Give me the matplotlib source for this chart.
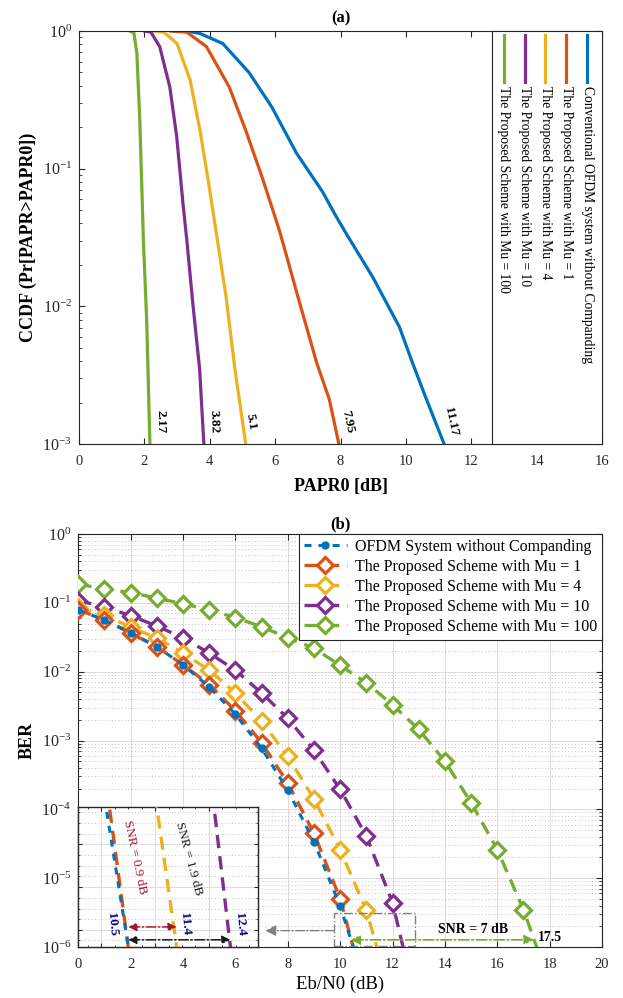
import numpy as np
import matplotlib.pyplot as plt
from matplotlib.patches import Rectangle
from matplotlib.ticker import LogLocator, NullFormatter, MultipleLocator, FixedLocator

plt.rcParams['font.family'] = 'Liberation Serif'
plt.rcParams['mathtext.fontset'] = 'custom'
plt.rcParams['mathtext.rm'] = 'Liberation Serif'
plt.rcParams['mathtext.it'] = 'Liberation Serif:italic'
plt.rcParams['mathtext.bf'] = 'Liberation Serif:bold'

# ---------------- (a) CCDF of PAPR ----------------
ccdf_labels = ['Conventional OFDM system without Companding',
               'The Proposed Scheme with Mu = 1',
               'The Proposed Scheme with Mu = 4',
               'The Proposed Scheme with Mu = 10',
               'The Proposed Scheme with Mu = 100']

conv_x = [2.9, 3.4, 3.7, 4.4, 5.2, 5.9, 6.65, 7.45, 7.82, 8.2, 8.98, 9.8, 10.2, 10.6, 11.17]
conv_y = [1.0, 0.99, 0.96, 0.81, 0.50, 0.28, 0.13, 0.068, 0.047, 0.033, 0.0164, 0.0071, 0.0039, 0.0022, 0.001]
mu1_x = [2.8, 3.3, 3.9, 4.6, 5.1, 5.6, 5.93, 6.14, 6.75, 7.27, 7.66, 7.95]
mu1_y = [1.0, 0.98, 0.77, 0.39, 0.19, 0.087, 0.05, 0.035, 0.0106, 0.0039, 0.0021, 0.001]
mu4_x = [2.26, 2.6, 3.0, 3.4, 3.7, 3.95, 4.17, 4.5, 4.77, 5.1]
mu4_y = [1.0, 0.98, 0.81, 0.44, 0.19, 0.083, 0.038, 0.0117, 0.0035, 0.001]
mu10_x = [2.0, 2.2, 2.47, 2.78, 2.99, 3.18, 3.3, 3.48, 3.69, 3.82]
mu10_y = [1.0, 0.98, 0.77, 0.39, 0.17, 0.056, 0.030, 0.0106, 0.0035, 0.001]
mu100_x = [1.55, 1.68, 1.77, 1.86, 1.97, 2.07, 2.17]
mu100_y = [1.0, 0.97, 0.69, 0.226, 0.030, 0.008, 0.001]

papr_marks = ['2.17', '3.82', '5.1', '7.95', '11.17']

colors = ['#0072BD', '#D95319', '#EDB120', '#7E2F8E', '#77AC30']
ccdf_x = [conv_x, mu1_x, mu4_x, mu10_x, mu100_x]
ccdf_y = [conv_y, mu1_y, mu4_y, mu10_y, mu100_y]

# ---------------- (b) BER ----------------
ber_labels = ['OFDM System without Companding',
              'The Proposed Scheme with Mu = 1',
              'The Proposed Scheme with Mu = 4',
              'The Proposed Scheme with Mu = 10',
              'The Proposed Scheme with Mu = 100']
ber_ofdm = [0.079, 0.056, 0.037, 0.023, 0.0125, 0.006, 0.0024, 0.00077, 0.00019, 3.4e-5, 3.9e-6, 2.6e-7]
ber_mu1 = [0.079, 0.057, 0.036, 0.023, 0.0126, 0.0065, 0.0027, 0.00093, 0.00024, 4.5e-5, 5.0e-6, 2.0e-7]
ber_mu4 = [0.087, 0.067, 0.044, 0.031, 0.0187, 0.0105, 0.0049, 0.0019, 0.00059, 0.000142, 2.6e-5, 3.4e-6, 1.6e-7]
ber_mu10 = [0.108, 0.087, 0.065, 0.046, 0.031, 0.0186, 0.0105, 0.0049, 0.0021, 0.00072, 0.000195, 4.1e-5, 4.4e-6, 1.1e-7]
ber_mu100 = [0.188, 0.158, 0.141, 0.117, 0.097, 0.079, 0.061, 0.045, 0.031, 0.022, 0.0123, 0.0069, 0.0033,
             0.00145, 0.0005, 0.000125, 2.6e-5, 3.5e-6, 2.9e-7]
ber_series = [ber_ofdm, ber_mu1, ber_mu4, ber_mu10, ber_mu100]

crossing = [10.5, 11.4, 12.4, 17.5]   # Eb/N0 where BER = 1e-6

frame_col = '#262626'
crimson = '#A2142F'
navy = '#000080'

fig = plt.figure(figsize=(6.23, 9.98), dpi=100)


def style_axes(ax):
    ax.tick_params(which='both', direction='in', top=True, right=True, colors=frame_col)
    ax.tick_params(axis='x', labelsize=10.5, pad=8)
    ax.tick_params(axis='y', labelsize=11.5, pad=5)
    ax.tick_params(which='major', length=4)
    ax.tick_params(which='minor', length=2)
    for s in ax.spines.values():
        s.set_color(frame_col)
        s.set_linewidth(0.8)


# ================= (a) =================
ax1 = fig.add_axes([79 / 623, 1 - 444 / 998, 523 / 623, 413 / 998])
for xs, ys, c in zip(ccdf_x, ccdf_y, colors):
    ax1.plot(xs, ys, color=c, lw=2.3, solid_joinstyle='round')
ax1.set_yscale('log')
ax1.set_xlim(0, 16)
ax1.set_ylim(1e-3, 1)
ax1.set_xticks(np.arange(0, 17, 2))
ax1.set_yticks([1e-3, 1e-2, 1e-1, 1])
ax1.yaxis.set_minor_locator(LogLocator(subs=np.arange(2, 10)))
ax1.yaxis.set_minor_formatter(NullFormatter())
style_axes(ax1)
ax1.set_xlabel('PAPR0 [dB]', fontsize=13, fontweight='bold', labelpad=7)
ax1.set_ylabel('CCDF (Pr[PAPR>PAPR0])', fontsize=13, fontweight='bold', labelpad=4)
ax1.set_title('(a)', fontsize=12, fontweight='bold', pad=6)

# value labels at the 1e-3 crossings
mark_x = [2.49, 4.13, 5.24, 8.22, 11.38]
mark_rot = [-90, -88, -80, -78, -78]
for xm, txt, r in zip(mark_x, papr_marks, mark_rot):
    ax1.text(xm, 1.45e-3, txt, rotation=r, ha='center', va='center', fontsize=9.5, fontweight='bold')

# rotated legend drawn by hand
trans = ax1.get_xaxis_transform()
ax1.add_patch(Rectangle((12.65, 0), 16 - 12.65, 1, transform=trans, facecolor='white',
                        edgecolor=frame_col, lw=0.8, zorder=3, clip_on=False))
for i, (lab, c) in enumerate(zip(ccdf_labels, colors)):
    xe = 15.55 - i * 0.64
    ax1.plot([xe, xe], [0.99, 0.877], transform=trans, color=c, lw=2.3, zorder=4, clip_on=False)
    ax1.text(xe, 0.866, lab, transform=trans, rotation=-90, rotation_mode='anchor',
             ha='left', va='center', fontsize=9.8, zorder=4)

# ================= (b) =================
ax2 = fig.add_axes([78.3 / 623, 1 - 947 / 998, 523.7 / 623, 413 / 998])


def draw_ber(ax):
    handles = []
    for i, (vals, c, lab) in enumerate(zip(ber_series, colors, ber_labels)):
        xs = np.arange(len(vals))
        if i == 0:
            h, = ax.plot(xs, vals, color=c, lw=2.2, ls=(0, (2.3, 2.3)), marker='o', ms=5,
                         mfc=c, mec=c, label=lab, zorder=6)
        else:
            h, = ax.plot(xs, vals, color=c, lw=2.4, ls=(0, (4, 2.4)), marker='D', ms=8,
                         mfc='white', mec=c, mew=2.3, label=lab, zorder=5 - i * 0.1)
        handles.append(h)
    return handles


handles = draw_ber(ax2)
ax2.set_yscale('log')
ax2.set_xlim(0, 20)
ax2.set_ylim(1e-6, 1)
ax2.set_xticks(np.arange(0, 21, 2))
ax2.set_yticks([1e-6, 1e-5, 1e-4, 1e-3, 1e-2, 1e-1, 1])
ax2.yaxis.set_minor_locator(LogLocator(subs=np.arange(2, 10), numticks=20))
ax2.yaxis.set_minor_formatter(NullFormatter())
ax2.grid(which='major', color='#dcdcdc', lw=0.7)
ax2.grid(which='minor', axis='y', color='#b0b0b0', ls=(0, (1, 3)), lw=0.6)
ax2.set_axisbelow(True)
style_axes(ax2)
ax2.set_xlabel('Eb/N0 (dB)', fontsize=13.5, labelpad=3)
ax2.set_ylabel('BER', fontsize=13, fontweight='bold', labelpad=4)
ax2.set_title('(b)', fontsize=12, fontweight='bold', pad=4)
leg = ax2.legend(handles=handles, loc='upper right', bbox_to_anchor=(1, 1), borderaxespad=0,
                 fontsize=11.5, fancybox=False, framealpha=1, edgecolor=frame_col,
                 handlelength=2.7, handletextpad=0.5, labelspacing=0.25, borderpad=0.3)
leg.get_frame().set_linewidth(0.8)

# zoom box + arrow pointing to the inset
ax2.add_patch(Rectangle((9.76, 1.03e-6), 12.85 - 9.76, 3.1e-6 - 1.03e-6, fill=False,
                        edgecolor='#808080', ls='-.', lw=1.0, zorder=7))
ax2.annotate('', xy=(7.14, 1.73e-6), xytext=(9.76, 1.73e-6),
             arrowprops=dict(arrowstyle='-|>', color='#808080', ls='-.', lw=1.0,
                             mutation_scale=16, shrinkA=0, shrinkB=0), zorder=7)
ax2.annotate('', xy=(crossing[3] - 0.1, 1.27e-6), xytext=(crossing[0] - 0.1, 1.27e-6),
             arrowprops=dict(arrowstyle='<|-|>', color=colors[4], ls='-.', lw=1.2,
                             mutation_scale=14, shrinkA=0, shrinkB=0), zorder=8)
ax2.text(15.06, 1.78e-6, 'SNR = 7 dB', fontsize=10, fontweight='bold', ha='center', va='center', zorder=8)
ax2.text(18.0, 1.39e-6, '17.5', fontsize=10, fontweight='bold', ha='center', va='center', zorder=8)

# inset
ins = ax2.inset_axes([0, 0, 0.3437, 0.339])
draw_ber(ins)
ins.set_yscale('log')
ins.set_xlim(9.57, 12.92)
ins.set_ylim(1e-6, 3.1e-6)
ins.xaxis.set_major_locator(FixedLocator([10, 11, 12]))
ins.xaxis.set_minor_locator(MultipleLocator(0.25))
ins.yaxis.set_major_locator(FixedLocator([1.15e-6, 1.62e-6, 2.29e-6]))
ins.yaxis.set_minor_locator(FixedLocator([1.06e-6, 1.25e-6, 1.36e-6, 1.49e-6, 1.77e-6, 1.93e-6, 2.1e-6,
                                          2.5e-6, 2.73e-6, 2.98e-6]))
ins.yaxis.set_minor_formatter(NullFormatter())
ins.xaxis.set_minor_formatter(NullFormatter())
ins.grid(which='major', color='#dcdcdc', lw=0.7)
ins.grid(which='minor', axis='y', color='#b0b0b0', ls=(0, (1, 3)), lw=0.6)
ins.set_axisbelow(True)
ins.tick_params(which='both', direction='in', top=True, right=True, colors=frame_col,
                labelbottom=False, labelleft=False)
ins.tick_params(which='major', length=3)
ins.tick_params(which='minor', length=1.5)
for s in ins.spines.values():
    s.set_color(frame_col)
    s.set_linewidth(1.0)

ins.annotate('', xy=(crossing[1], 1.176e-6), xytext=(crossing[0], 1.176e-6),
             arrowprops=dict(arrowstyle='<|-|>', color=crimson, ls='-.', lw=1.1,
                             mutation_scale=12, shrinkA=0, shrinkB=0), zorder=9)
ins.annotate('', xy=(crossing[2], 1.06e-6), xytext=(crossing[0], 1.06e-6),
             arrowprops=dict(arrowstyle='<|-|>', color='#1a1a1a', ls='-.', lw=1.1,
                             mutation_scale=12, shrinkA=0, shrinkB=0), zorder=9)
ins.text(10.63, 2.06e-6, 'SNR = 0.9 dB', rotation=-78, color=crimson, fontsize=9.5,
         ha='center', va='center', zorder=9)
ins.text(11.63, 2.05e-6, 'SNR = 1.9 dB', rotation=-75, color='#1a1a1a', fontsize=9.5,
         ha='center', va='center', zorder=9)
for xv, txt in zip([10.2, 11.56, 12.58], ['10.5', '11.4', '12.4']):
    ins.text(xv, 1.2e-6, txt, rotation=-85, color=navy, fontsize=9.5, fontweight='bold',
             ha='center', va='center', zorder=9)

fig.savefig('out.png', dpi=100)
